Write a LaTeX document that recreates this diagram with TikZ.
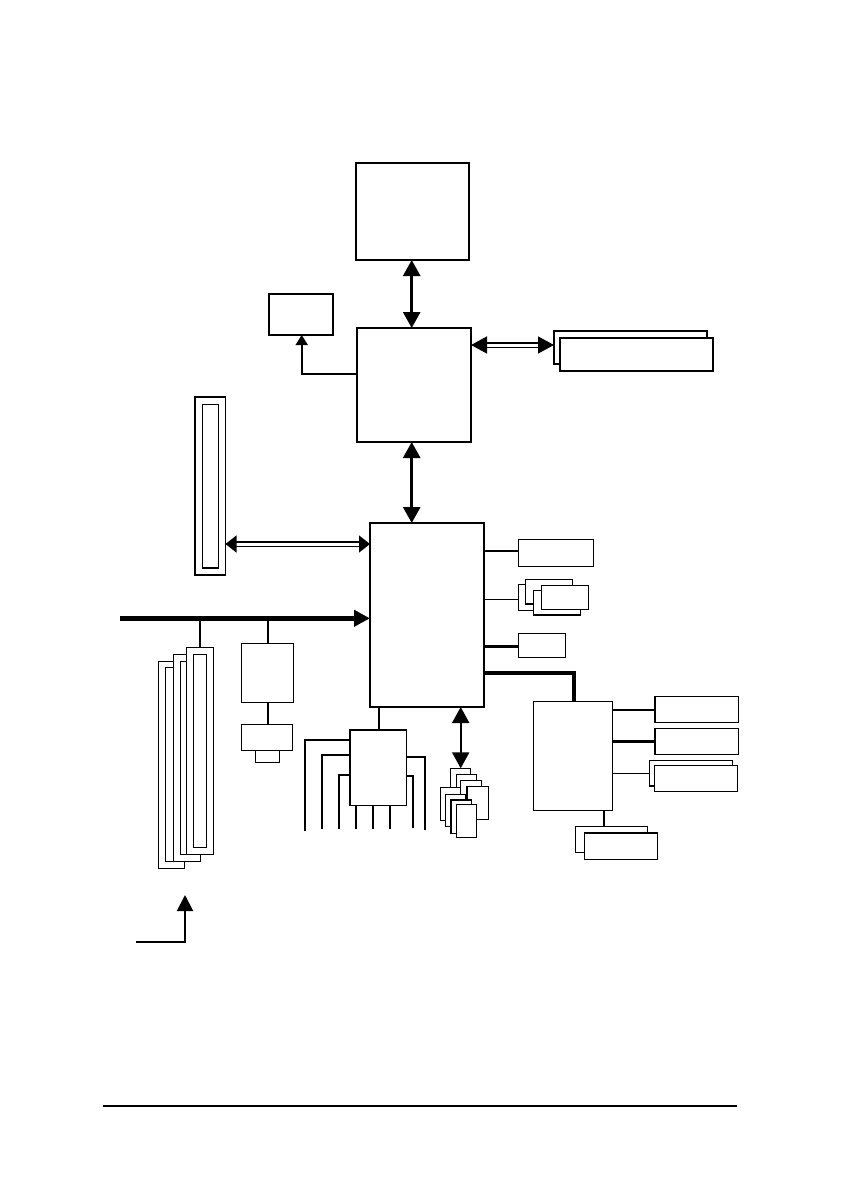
\documentclass[tikz,border=0pt]{standalone}
\usetikzlibrary{arrows.meta}
\begin{document}
\begin{tikzpicture}[x=1pt,y=-1pt,
  box/.style={draw, fill=white, inner sep=0pt, outer sep=0pt, anchor=north west, line width=1.2pt},
  bbox/.style={box, line width=1.8pt},
  sz/.style 2 args={minimum width=#1pt, minimum height=#2pt},
  big/.style={{Triangle[length=16pt,width=17pt]}-{Triangle[length=16pt,width=17pt]}},
  onetip/.style={-{Triangle[length=16pt,width=16pt]}},
  smalltip/.style={-{Triangle[length=10pt,width=12pt]}},
  dbl/.style={double, double distance=3pt, line width=1.3pt},
  wire/.style={line width=2pt}]
\useasboundingbox (0,0) rectangle (840,1190);

% main chips
\node[bbox, sz={113}{97}] (cpu) at (356,163) {};
\node[bbox, sz={114}{114}] (nb) at (357,328) {};
\node[box, sz={64}{41}] (clk) at (269,294) {};
\node[box, sz={153}{33}] (memb) at (554,331) {};
\node[box, sz={153}{33}] (memf) at (560,338) {};
\node[box, sz={30.5}{178}] (agp) at (195,397) {};
\node[box, sz={16.4}{163.7}] (agpi) at (202.3,404.3) {};
\node[bbox, sz={114}{184}] (sb) at (370,523) {};

% PCI slots
\node[box, sz={26.4}{207}] (s1) at (158.3,661.3) {};
\node[box, sz={13.4}{194}] (s1i) at (165.3,667.3) {};
\node[box, sz={27}{207}] (s2) at (173.3,654.3) {};
\node[box, sz={13.4}{193}] (s2i) at (180.3,661.3) {};
\node[box, sz={27}{207}] (s3) at (186.3,647.3) {};
\node[box, sz={13.4}{193}] (s3i) at (193.3,654.3) {};

% LAN chip and connector
\node[box, sz={52}{59}] (lan) at (241.3,643.3) {};
\node[box, sz={51}{26}] (rj) at (241.3,724.3) {};
\node[box, sz={24}{12}] (rjt) at (255.3,750.3) {};

% right of south bridge
\node[box, sz={75}{27}] (r1) at (518.3,539.3) {};
\node[box, sz={47}{26}] (uA) at (518.3,584.5) {};
\node[box, sz={47}{24.5}] (uB) at (525.3,579.5) {};
\node[box, sz={47}{24.5}] (uC) at (533.3,590.5) {};
\node[box, sz={47.4}{24}] (uD) at (541.3,585.3) {};
\node[box, sz={47}{24}] (r3) at (518.3,633.3) {};

% super I/O
\node[box, sz={79}{109}] (io) at (533.3,701.3) {};
\node[box, sz={83.3}{26}] (p1) at (655,696.3) {};
\node[box, sz={83.3}{26}] (p2) at (655,728.3) {};
\node[box, sz={83}{25.7}] (p3b) at (649.3,760.3) {};
\node[box, sz={83}{26}] (p3f) at (654.3,765.3) {};
\node[box, sz={71.6}{25.6}] (fdb) at (575.7,826.7) {};
\node[box, sz={73}{26.3}] (fdf) at (584.3,833) {};

% audio chip
\node[box, sz={56.3}{75.7}] (ac) at (350,730) {};

% stack of small chips
\node[box, sz={20}{33}] (b1) at (450.3,768.3) {};
\node[box, sz={20}{33}] (b2) at (456.3,774.3) {};
\node[box, sz={21}{33}] (b3) at (460.3,780.7) {};
\node[box, sz={21.5}{33}] (b5) at (467,786.3) {};
\node[box, sz={20.5}{33.4}] (b4) at (440.3,787.3) {};
\node[box, sz={20.5}{32.4}] (b6) at (445.3,794.3) {};
\node[box, sz={20.5}{33.3}] (b7) at (451,800) {};
\node[box, sz={20}{33}] (b8) at (456.3,804.3) {};

% connectors
\draw[big, line width=2.8pt] (cpu.south -| 411.7,0) -- (nb.north -| 411.7,0);
\draw[big, line width=2.8pt] (nb.south -| 411.7,0) -- (sb.north -| 411.7,0);
\draw[smalltip, line width=1.7pt] (nb.west |- 0,374) -| (clk.south -| 301.7,0);
\draw[dbl, {Triangle[length=16pt,width=17pt]}-{Triangle[length=16pt,width=17pt]}] (nb.east |- 0,345) -- (memb.west |- 0,345);
\draw[dbl, {Triangle[length=11pt,width=17pt]}-{Triangle[length=11pt,width=17pt]}] (agp.east |- 0,544) -- (sb.west |- 0,544);

\coordinate (busstart) at (120,618.3);
\draw[onetip, line width=4.5pt] (busstart) -- (sb.west |- busstart);
\draw[wire] (200,618.3) -- (s3.north -| 200,0);
\draw[wire] (267.7,618.3) -- (lan.north -| 267.7,0);
\draw[wire] (lan.south -| 267.7,0) -- (rj.north -| 267.7,0);

\draw[line width=1.7pt] (sb.east |- 0,551) -- (r1.west |- 0,551);
\draw[line width=1.1pt] (sb.east |- 0,599.3) -- (uA.west |- 0,599.3);
\draw[line width=2.7pt] (sb.east |- 0,646.3) -- (r3.west |- 0,646.3);
\draw[line width=4pt] (sb.east |- 0,673) -| (io.north -| 574,0);

\draw[line width=2.5pt] (io.east |- 0,710) -- (p1.west |- 0,710);
\draw[line width=2.5pt] (io.east |- 0,741.7) -- (p2.west |- 0,741.7);
\draw[line width=1.1pt] (io.east |- 0,773.3) -- (p3b.west |- 0,773.3);
\draw[line width=2.5pt] (io.south -| 604,0) -- (fdb.north -| 604,0);

\draw[big, line width=2pt] (sb.south -| 460.7,0) -- (b1.north -| 460.7,0);

\draw[wire] (sb.south -| 379,0) -- (ac.north -| 379,0);
\coordinate (e1) at (305,830.5);
\coordinate (e2) at (322.3,829);
\coordinate (e3) at (339.3,829);
\coordinate (e4) at (355.7,829);
\coordinate (e5) at (372.7,829);
\coordinate (e6) at (389.7,829);
\coordinate (e7) at (412.7,828);
\coordinate (e8) at (425,830);
\draw[wire] (ac.west |- 0,740) -| (e1);
\draw[wire] (ac.west |- 0,755) -| (e2);
\draw[wire] (ac.west |- 0,775) -| (e3);
\draw[wire] (ac.south -| e4) -- (e4);
\draw[wire] (ac.south -| e5) -- (e5);
\draw[wire] (ac.south -| e6) -- (e6);
\draw[wire] (ac.east |- 0,776) -| (e7);
\draw[wire] (ac.east |- 0,756.7) -| (e8);

% bottom-left arrow
\coordinate (inL) at (136,941.7);
\coordinate (inT) at (185,895);
\draw[onetip, line width=2pt] (inL) -| (inT);

% footer rule
\coordinate (f1) at (103,1105.7);
\coordinate (f2) at (737,1105.7);
\draw[line width=2pt] (f1) -- (f2);
\end{tikzpicture}
\end{document}
